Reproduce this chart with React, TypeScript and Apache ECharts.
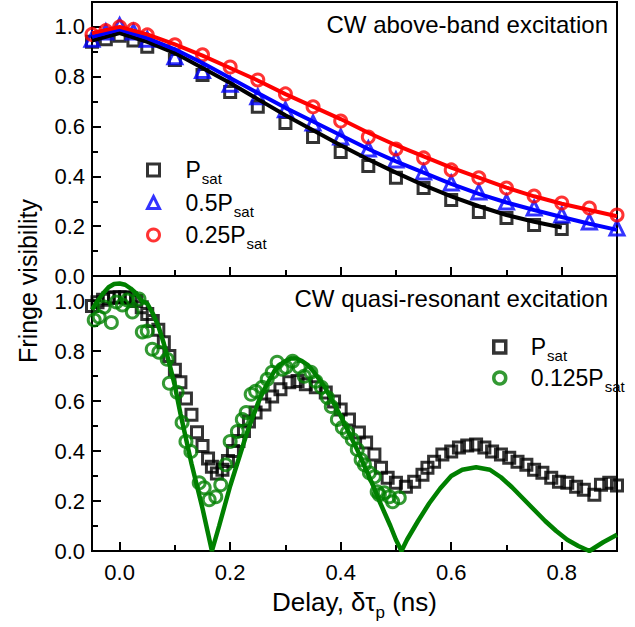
import React, { useEffect, useRef } from "react";
import * as echarts from "echarts";

// ---------- Top panel: CW above-band excitation ----------
const topMarkX = [-0.05, -0.025, 0, 0.025, 0.05, 0.1, 0.15, 0.2, 0.25, 0.3, 0.35, 0.4, 0.45, 0.5, 0.55, 0.6, 0.65, 0.7, 0.75, 0.8, 0.85, 0.9];
const markPsat = [0.94, 0.95, 0.965, 0.945, 0.92, 0.867, 0.807, 0.739, 0.679, 0.614, 0.558, 0.498, 0.442, 0.394, 0.353, 0.305, 0.257, 0.233, 0.205, 0.189];
const markHalf = [0.95, 0.98, 1.005, 0.98, 0.95, 0.88, 0.825, 0.77, 0.72, 0.667, 0.614, 0.558, 0.51, 0.466, 0.418, 0.373, 0.337, 0.297, 0.273, 0.245, 0.217, 0.193];
const markQuarter = [0.97, 0.985, 1.0, 0.99, 0.968, 0.928, 0.888, 0.839, 0.787, 0.731, 0.679, 0.622, 0.558, 0.51, 0.474, 0.426, 0.394, 0.353, 0.321, 0.293, 0.273, 0.245];

const topFitX = [-0.05, 0, 0.05, 0.1, 0.15, 0.2, 0.25, 0.3, 0.35, 0.4, 0.45, 0.5, 0.55, 0.6, 0.65, 0.7, 0.75, 0.8, 0.85, 0.9];
const fitPsat = [0.945, 0.975, 0.94, 0.895, 0.835, 0.775, 0.71, 0.645, 0.585, 0.525, 0.468, 0.415, 0.365, 0.32, 0.28, 0.245, 0.218, 0.195];
const fitHalf = [0.96, 0.99, 0.955, 0.91, 0.855, 0.795, 0.735, 0.675, 0.62, 0.565, 0.51, 0.46, 0.415, 0.37, 0.33, 0.295, 0.265, 0.237, 0.21, 0.185];
const fitQuarter = [0.975, 1.0, 0.97, 0.93, 0.885, 0.835, 0.785, 0.73, 0.68, 0.63, 0.575, 0.525, 0.48, 0.435, 0.395, 0.355, 0.32, 0.29, 0.265, 0.24];

// ---------- Bottom panel: CW quasi-resonant excitation ----------
const botPsatX = [-0.05, -0.04, -0.03, -0.02, -0.01, 0.0, 0.01, 0.02, 0.03, 0.04, 0.05, 0.06, 0.07, 0.08, 0.09, 0.1, 0.11, 0.12, 0.13, 0.14, 0.15, 0.16, 0.167, 0.176, 0.186, 0.196, 0.205, 0.215, 0.225, 0.234, 0.246, 0.262, 0.276, 0.291, 0.307, 0.322, 0.337, 0.355, 0.373, 0.388, 0.4, 0.415, 0.433, 0.446, 0.461, 0.473, 0.485, 0.5, 0.518, 0.533, 0.548, 0.557, 0.569, 0.584, 0.6, 0.614, 0.629, 0.645, 0.66, 0.674, 0.69, 0.705, 0.72, 0.736, 0.75, 0.765, 0.781, 0.795, 0.81, 0.826, 0.84, 0.859, 0.871, 0.886, 0.9];
const botPsatY = [0.98, 0.995, 1.005, 1.012, 1.015, 1.015, 1.015, 1.012, 1.0, 0.975, 0.948, 0.92, 0.885, 0.835, 0.78, 0.725, 0.675, 0.61, 0.545, 0.475, 0.42, 0.37, 0.337, 0.31, 0.325, 0.36, 0.4, 0.44, 0.48, 0.518, 0.554, 0.586, 0.618, 0.647, 0.675, 0.68, 0.667, 0.655, 0.634, 0.598, 0.566, 0.526, 0.474, 0.434, 0.386, 0.333, 0.293, 0.273, 0.257, 0.277, 0.305, 0.333, 0.357, 0.386, 0.398, 0.414, 0.422, 0.426, 0.414, 0.398, 0.386, 0.373, 0.357, 0.345, 0.325, 0.313, 0.293, 0.277, 0.273, 0.257, 0.245, 0.225, 0.265, 0.273, 0.262];

const botEighthX = [-0.046, -0.037, -0.028, -0.015, -0.006, 0.005, 0.014, 0.023, 0.035, 0.041, 0.05, 0.059, 0.071, 0.086, 0.09, 0.104, 0.113, 0.12, 0.129, 0.144, 0.153, 0.162, 0.174, 0.183, 0.192, 0.2, 0.213, 0.222, 0.229, 0.238, 0.246, 0.258, 0.267, 0.276, 0.285, 0.294, 0.301, 0.313, 0.325, 0.334, 0.346, 0.355, 0.365, 0.376, 0.383, 0.394, 0.403, 0.412, 0.421, 0.43, 0.437, 0.443, 0.452, 0.461, 0.466, 0.47, 0.479, 0.488, 0.494, 0.506];
const botEighthY = [0.924, 0.936, 0.976, 0.914, 0.996, 0.984, 1.004, 0.956, 1.008, 0.876, 0.88, 0.807, 0.795, 0.767, 0.671, 0.635, 0.514, 0.438, 0.398, 0.273, 0.253, 0.205, 0.217, 0.265, 0.345, 0.438, 0.478, 0.526, 0.554, 0.627, 0.639, 0.655, 0.687, 0.715, 0.755, 0.727, 0.735, 0.759, 0.735, 0.699, 0.715, 0.679, 0.655, 0.614, 0.578, 0.526, 0.494, 0.474, 0.446, 0.406, 0.365, 0.345, 0.313, 0.297, 0.237, 0.225, 0.233, 0.217, 0.197, 0.213];

const botFitX = [-0.05, -0.04, -0.03, -0.02, -0.01, 0, 0.01, 0.02, 0.03, 0.04, 0.05, 0.06, 0.07, 0.08, 0.09, 0.1, 0.11, 0.12, 0.13, 0.14, 0.15, 0.16, 0.167, 0.18, 0.19, 0.2, 0.21, 0.22, 0.23, 0.24, 0.25, 0.26, 0.27, 0.28, 0.29, 0.3, 0.31, 0.32, 0.33, 0.34, 0.35, 0.36, 0.37, 0.38, 0.39, 0.4, 0.41, 0.42, 0.43, 0.44, 0.45, 0.46, 0.47, 0.48, 0.49, 0.5, 0.51, 0.52, 0.54, 0.56, 0.58, 0.6, 0.62, 0.645, 0.67, 0.69, 0.71, 0.73, 0.75, 0.77, 0.79, 0.81, 0.83, 0.85, 0.875, 0.9];
const botFitY = [0.965, 1.0, 1.03, 1.055, 1.068, 1.07, 1.065, 1.05, 1.03, 1.0, 0.99, 0.95, 0.9, 0.83, 0.75, 0.66, 0.55, 0.45, 0.35, 0.26, 0.17, 0.07, 0.0, 0.1, 0.18, 0.26, 0.33, 0.4, 0.47, 0.53, 0.59, 0.64, 0.68, 0.72, 0.745, 0.76, 0.77, 0.77, 0.76, 0.745, 0.72, 0.69, 0.66, 0.62, 0.58, 0.54, 0.495, 0.45, 0.405, 0.355, 0.305, 0.255, 0.2, 0.15, 0.1, 0.045, 0.0, 0.045, 0.12, 0.19, 0.25, 0.3, 0.325, 0.335, 0.325, 0.295, 0.255, 0.21, 0.165, 0.12, 0.08, 0.045, 0.02, 0.0, 0.035, 0.065];

// ---------- Ticks ----------
const xMajorTicks = [0, 0.2, 0.4, 0.6, 0.8];
const xMinorTicks = [0.1, 0.3, 0.5, 0.7];
const yMajorTicks = [0, 0.2, 0.4, 0.6, 0.8, 1.0];
const yMinorTicks = [0.1, 0.3, 0.5, 0.7, 0.9];

const legendLabels: Record<string, string> = {
  topP: "{f|P}{s|sat}",
  topHalf: "{f|0.5P}{s|sat}",
  topQuarter: "{f|0.25P}{s|sat}",
  botP: "{g|P}{t|sat}",
  botEighth: "{g|0.125P}{t|sat}",
};

const FONT = "Liberation Sans, Arial, Helvetica, sans-serif";

const pairs = (xs: number[], ys: number[]) =>
  ys.map((y, i) => [xs[i], y]);

export default function App() {
  const ref = useRef<HTMLDivElement>(null);
  useEffect(() => {
    if (!ref.current) return;
    const chart = echarts.init(ref.current, undefined, { renderer: "svg" });

    const majorX = (gridIndex: number, labels: boolean) => ({
      type: "value",
      gridIndex,
      min: -0.05,
      max: 0.9,
      position: "bottom",
      axisLine: { show: true, onZero: false, lineStyle: { color: "#000", width: 2 } },
      axisTick: { show: true, inside: true, length: 9, customValues: xMajorTicks, lineStyle: { color: "#000", width: 2 } },
      axisLabel: labels
        ? { show: true, customValues: xMajorTicks, color: "#000", fontSize: 22, fontFamily: FONT, margin: 10, formatter: (v: number) => v.toFixed(1) }
        : { show: false },
      splitLine: { show: false },
    });
    const minorX = (gridIndex: number) => ({
      type: "value",
      gridIndex,
      min: -0.05,
      max: 0.9,
      position: "bottom",
      axisLine: { show: false, onZero: false },
      axisTick: { show: true, inside: true, length: 6, customValues: xMinorTicks, lineStyle: { color: "#000", width: 2 } },
      axisLabel: { show: false },
      splitLine: { show: false },
    });
    const majorY = (gridIndex: number) => ({
      type: "value",
      gridIndex,
      min: 0,
      max: 1.1,
      position: "left",
      axisLine: { show: true, onZero: false, lineStyle: { color: "#000", width: 2 } },
      axisTick: { show: true, inside: true, length: 9, customValues: yMajorTicks, lineStyle: { color: "#000", width: 2 } },
      axisLabel: { show: true, customValues: yMajorTicks, color: "#000", fontSize: 22, fontFamily: FONT, margin: 7, formatter: (v: number) => v.toFixed(1) },
      splitLine: { show: false },
    });
    const minorY = (gridIndex: number) => ({
      type: "value",
      gridIndex,
      min: 0,
      max: 1.1,
      position: "left",
      axisLine: { show: false, onZero: false },
      axisTick: { show: true, inside: true, length: 6, customValues: yMinorTicks, lineStyle: { color: "#000", width: 2 } },
      axisLabel: { show: false },
      splitLine: { show: false },
    });

    const xAxes: any[] = [majorX(0, false), minorX(0), majorX(1, true), minorX(1)];
    xAxes[2].name = "{n|Delay, δτ}{s|p}{n| (ns)}";
    xAxes[2].nameLocation = "middle";
    xAxes[2].nameGap = 32;
    xAxes[2].nameTextStyle = {
      fontFamily: FONT,
      color: "#000",
      rich: {
        n: { fontSize: 26, lineHeight: 30, fontFamily: FONT, color: "#000" },
        s: { fontSize: 17, lineHeight: 18, padding: [20, 0, 0, 0], fontFamily: FONT, color: "#000" },
      },
    };

    const hollow = (color: string, w: number) => ({
      color: "rgba(255,255,255,0)",
      borderColor: color,
      borderWidth: w,
    });
    const fitLine = (name: string, xs: number[], ys: number[], color: string, axis: number, width: number) => ({
      name,
      type: "line",
      xAxisIndex: axis,
      yAxisIndex: axis,
      data: pairs(xs, ys),
      showSymbol: false,
      symbol: "none",
      lineStyle: { color, width },
      itemStyle: { color },
      z: 4,
      silent: true,
    });
    const scatter = (name: string, xs: number[], ys: number[], symbol: string, size: number, color: string, axis: number, w: number) => ({
      name,
      type: "scatter",
      xAxisIndex: axis,
      yAxisIndex: axis,
      data: pairs(xs, ys),
      symbol,
      symbolSize: size,
      itemStyle: hollow(color, w),
      z: 3,
    });

    const legendRich = {
      f: { fontSize: 23, lineHeight: 26, padding: [0, 0, 0, 21], fontFamily: FONT, color: "#000" },
      g: { fontSize: 23, lineHeight: 26, padding: [0, 0, 0, 20], fontFamily: FONT, color: "#000" },
      s: { fontSize: 15, lineHeight: 15, padding: [17, 0, 0, 1], fontFamily: FONT, color: "#000" },
      t: { fontSize: 15, lineHeight: 15, padding: [16, 0, 0, 1], fontFamily: FONT, color: "#000" },
    };

    chart.setOption({
      animation: false,
      backgroundColor: "#fff",
      textStyle: { fontFamily: FONT },
      grid: [
        { left: 92, top: 2, width: 525, height: 274, show: true, borderColor: "#000", borderWidth: 2, backgroundColor: "transparent", containLabel: false },
        { left: 92, top: 276, width: 525, height: 275, show: true, borderColor: "#000", borderWidth: 2, backgroundColor: "transparent", containLabel: false },
      ],
      xAxis: xAxes,
      yAxis: [majorY(0), minorY(0), majorY(1), minorY(1)],
      legend: [
        {
          data: ["topP", "topHalf", "topQuarter"],
          orient: "vertical",
          left: 141,
          top: 149,
          itemWidth: 12,
          itemHeight: 12,
          itemGap: 0.5,
          selectedMode: false,
          itemStyle: { borderWidth: 3 },
          formatter: (n: string) => legendLabels[n],
          textStyle: { rich: legendRich },
        },
        {
          data: ["botP", "botEighth"],
          orient: "vertical",
          left: 487,
          top: 326.5,
          itemWidth: 12,
          itemHeight: 12,
          itemGap: 0,
          selectedMode: false,
          itemStyle: { borderWidth: 3.5 },
          formatter: (n: string) => legendLabels[n],
          textStyle: { rich: legendRich },
        },
      ],
      graphic: [
        {
          type: "text",
          x: 608,
          y: 24,
          style: { text: "CW above-band excitation", fontSize: 24, fontFamily: FONT, fill: "#000", align: "right", verticalAlign: "middle" },
        },
        {
          type: "text",
          x: 608,
          y: 298,
          style: { text: "CW quasi-resonant excitation", fontSize: 24, fontFamily: FONT, fill: "#000", align: "right", verticalAlign: "middle" },
        },
        {
          type: "text",
          x: 28,
          y: 281,
          rotation: Math.PI / 2,
          style: { text: "Fringe visibility", fontSize: 25, fontFamily: FONT, fill: "#000", align: "center", verticalAlign: "middle" },
        },
      ],
      series: [
        scatter("topP", topMarkX, markPsat, "rect", 11, "#000", 0, 3),
        scatter("topHalf", topMarkX, markHalf, "triangle", 14, "#0000ff", 0, 3),
        scatter("topQuarter", topMarkX, markQuarter, "circle", 12, "#ff0000", 0, 3),
        fitLine("fitPsat", topFitX, fitPsat, "#000", 0, 4),
        fitLine("fitHalf", topFitX, fitHalf, "#0000ff", 0, 4),
        fitLine("fitQuarter", topFitX, fitQuarter, "#ff0000", 0, 4),
        scatter("botP", botPsatX, botPsatY, "rect", 11, "#000", 2, 3),
        scatter("botEighth", botEighthX, botEighthY, "circle", 12, "#008000", 2, 3),
        fitLine("fitEighth", botFitX, botFitY, "#008000", 2, 4.5),
      ],
    });
    return () => chart.dispose();
  }, []);
  return <div ref={ref} style={{ position: "fixed", left: 0, top: 0, width: 635, height: 627 }} />;
}
